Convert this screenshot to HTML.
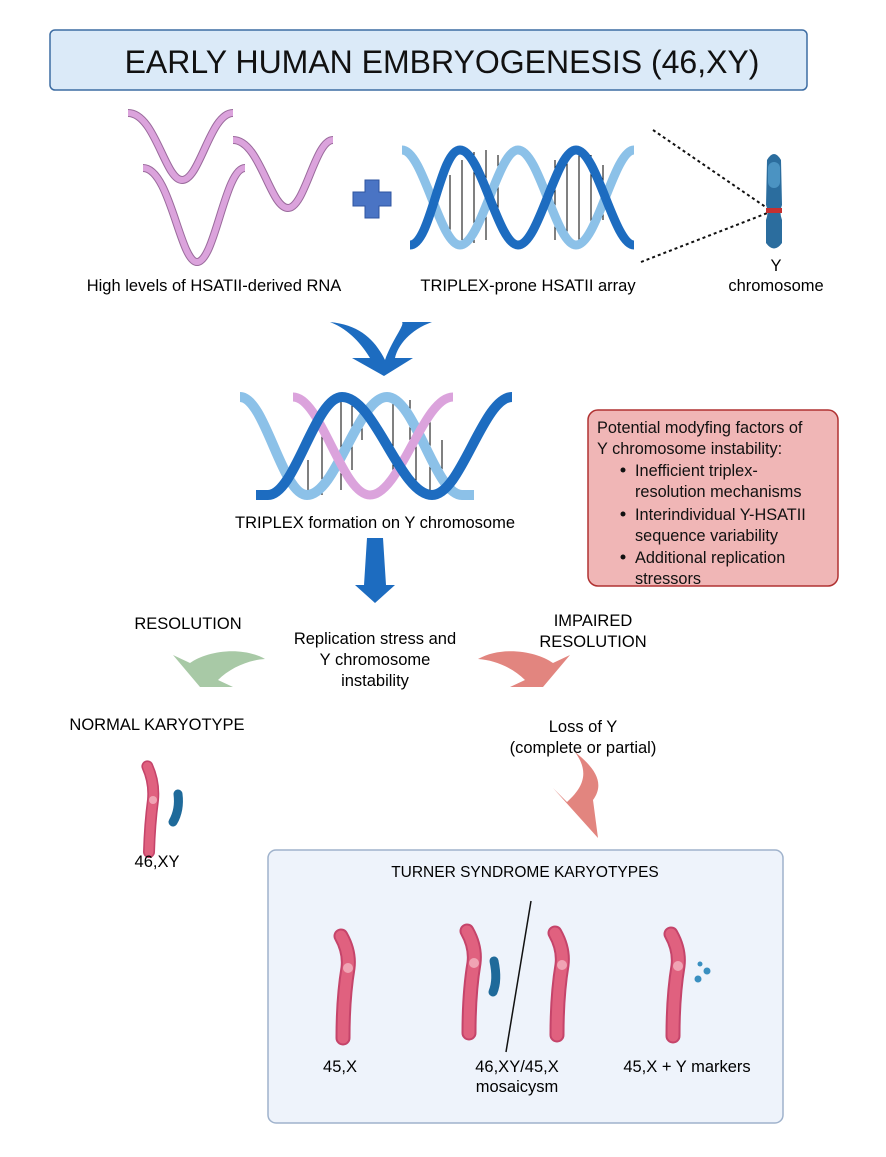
<!DOCTYPE html>
<html><head><meta charset="utf-8"><style>
body{margin:0;background:#fff}
svg{display:block;font-family:"Liberation Sans",sans-serif}
</style></head><body>
<svg width="886" height="1157" viewBox="0 0 886 1157" xmlns="http://www.w3.org/2000/svg">
<rect x="0" y="0" width="886" height="1157" fill="#fff"/>
<!-- title -->
<rect x="50" y="30" width="757" height="60" rx="5" fill="#dbeaf8" stroke="#3d6da3" stroke-width="1.5"/>
<text x="442" y="73" font-size="32" text-anchor="middle" fill="#111">EARLY HUMAN EMBRYOGENESIS (46,XY)</text>

<!-- RNA strands -->
<g fill="none">
<g stroke="#9a6a9c" stroke-width="8">
<path d="M128,113 C155,113 165,180 182,180 C200,180 210,113 233,113"/>
<path d="M233,140 C260,140 270,208 288,208 C305,208 315,140 333,140"/>
<path d="M143,168 C170,168 180,262 197,262 C215,262 225,168 245,168"/>
</g>
<g stroke="#dba3dc" stroke-width="6">
<path d="M128,113 C155,113 165,180 182,180 C200,180 210,113 233,113"/>
<path d="M233,140 C260,140 270,208 288,208 C305,208 315,140 333,140"/>
<path d="M143,168 C170,168 180,262 197,262 C215,262 225,168 245,168"/>
</g>
</g>
<!-- plus -->
<path d="M365,180 h14 v12 h12 v14 h-12 v12 h-14 v-12 h-12 v-14 h12z" fill="#4a74c4" stroke="#2f55a0" stroke-width="1"/>

<!-- DNA helix -->
<g fill="none">
<g stroke="#000" stroke-width="1">
<line x1="450" y1="175" x2="450" y2="230"/><line x1="462" y1="160" x2="462" y2="240"/><line x1="474" y1="152" x2="474" y2="243"/><line x1="486" y1="150" x2="486" y2="240"/><line x1="498" y1="155" x2="498" y2="225"/>
<line x1="555" y1="160" x2="555" y2="240"/><line x1="567" y1="152" x2="567" y2="245"/><line x1="579" y1="150" x2="579" y2="242"/><line x1="591" y1="155" x2="591" y2="235"/><line x1="603" y1="165" x2="603" y2="220"/>
</g>
<path d="M402,150 C423,150 440,245 460,245 C481,245 498,150 518,150 C539,150 556,245 576,245 C597,245 614,150 634,150" stroke="#8cc1e8" stroke-width="9"/>
<path d="M410,245 C431,245 440,150 460,150 C481,150 498,245 518,245 C539,245 556,150 576,150 C597,150 614,245 634,245" stroke="#1d6cc0" stroke-width="9" stroke-dasharray="0"/>
</g>
<!-- dotted lines -->
<line x1="653" y1="130" x2="770" y2="210" stroke="#111" stroke-width="2" stroke-dasharray="3,3"/>
<line x1="641" y1="262" x2="770" y2="212" stroke="#111" stroke-width="2" stroke-dasharray="3,3"/>
<!-- Y chromosome -->
<path d="M767,160 Q774,148 781,160 L782,205 Q779,212 782,220 L782,243 Q774,254 766,243 L766,220 Q769,212 766,205Z" fill="#2b6d9e"/>
<rect x="768" y="162" width="12" height="26" rx="6" fill="#4b93c2"/>
<rect x="766" y="208" width="16" height="5" fill="#c43030"/>
<g font-size="16.5" text-anchor="middle">
<text x="214" y="291">High levels of HSATII-derived RNA</text>
<text x="528" y="291">TRIPLEX-prone HSATII array</text>
<text x="776" y="271">Y</text>
<text x="776" y="291">chromosome</text>
</g>

<!-- chevron arrow -->
<path d="M330,322 C360,325 375,340 385,360 C392,340 405,325 402,322 C420,322 435,322 432,322 C410,330 398,345 395,358 L413,358 L384,376 L352,358 L370,358 C362,345 350,330 330,322Z" fill="#1d6cc0"/>

<!-- triplex helix -->
<g fill="none">
<g stroke="#000" stroke-width="1">
<line x1="308" y1="460" x2="308" y2="495"/><line x1="322" y1="430" x2="322" y2="495"/><line x1="341" y1="400" x2="341" y2="490"/><line x1="352" y1="398" x2="352" y2="470"/><line x1="362" y1="405" x2="362" y2="440"/>
<line x1="393" y1="400" x2="393" y2="470"/><line x1="410" y1="400" x2="410" y2="440"/><line x1="416" y1="440" x2="416" y2="490"/>
<line x1="430" y1="420" x2="430" y2="495"/><line x1="442" y1="440" x2="442" y2="492"/>
</g>
<path d="M240,397 C265,397 282,495 307,495 C336,495 358,397 387,397 C415,397 435,495 462,495 L474,495" stroke="#8cc1e8" stroke-width="10"/>
<path d="M293,397 C321,397 342,495 370,495 C400,495 423,397 453,397" stroke="#dba3dc" stroke-width="9"/>
<path d="M256,495 L268,495 C295,495 315,397 342,397 C375,397 400,495 432,495 C461,495 483,397 512,397" stroke="#1d6cc0" stroke-width="10"/>
</g>
<text x="375" y="528" font-size="16.5" text-anchor="middle">TRIPLEX formation on Y chromosome</text>

<!-- red box -->
<rect x="588" y="410" width="250" height="176" rx="10" fill="#f0b6b6" stroke="#b03232" stroke-width="1.5"/>
<g font-size="16.3" fill="#111">
<text x="597" y="433">Potential modyfing factors of</text>
<text x="597" y="454">Y chromosome instability:</text>
<circle cx="623" cy="470" r="2.5" fill="#111"/><text x="635" y="476">Inefficient triplex-</text>
<text x="635" y="497">resolution mechanisms</text>
<circle cx="623" cy="514" r="2.5" fill="#111"/><text x="635" y="520">Interindividual Y-HSATII</text>
<text x="635" y="541">sequence variability</text>
<circle cx="623" cy="557" r="2.5" fill="#111"/><text x="635" y="563">Additional replication</text>
<text x="635" y="584">stressors</text>
</g>

<!-- down arrow -->
<path d="M367,538 L383,538 L386,585 L395,585 L375,603 L355,585 L364,585Z" fill="#1d6cc0"/>
<g font-size="16.5" text-anchor="middle">
<text x="188" y="629">RESOLUTION</text>
<text x="375" y="644">Replication stress and</text>
<text x="375" y="665">Y chromosome</text>
<text x="375" y="686">instability</text>
<text x="593" y="626">IMPAIRED</text>
<text x="593" y="647">RESOLUTION</text>
<text x="157" y="730">NORMAL KARYOTYPE</text>
<text x="583" y="732">Loss of Y</text>
<text x="583" y="753">(complete or partial)</text>
</g>
<!-- curved arrows -->
<path d="M265,659 C240,645 205,652 190,663 L173,655 L200,687 L233,687 L218,680 C230,668 248,660 265,659Z" fill="#a8c9a6"/>
<path transform="translate(743,0) scale(-1,1)" d="M265,659 C240,645 205,652 190,663 L173,655 L200,687 L233,687 L218,680 C230,668 248,660 265,659Z" fill="#e2857f"/>
<path d="M575,752 C598,770 604,785 593,800 L598,838 L553,788 L567,802 C586,785 588,770 575,752Z" fill="#e2857f"/>

<!-- normal karyotype chromosomes -->
<g transform="translate(153,800) scale(0.8)" fill="none" stroke-linecap="round">
<path d="M-7,-42 Q2,-22 0,0 Q-4,30 -5,65" stroke="#c5446a" stroke-width="15"/>
<path d="M-7,-42 Q2,-22 0,0 Q-4,30 -5,65" stroke="#e0617f" stroke-width="11"/>
<circle cx="0" cy="0" r="5" fill="#f0a4b4" stroke="none"/>
</g>
<path d="M178,794 Q180,810 173,822" stroke="#1f6a9a" stroke-width="9" stroke-linecap="round" fill="none"/>
<text x="157" y="867" font-size="16.5" text-anchor="middle">46,XY</text>

<!-- Turner box -->
<rect x="268" y="850" width="515" height="273" rx="8" fill="#eef3fb" stroke="#9fb2cc" stroke-width="1.5"/>
<text x="525" y="877" font-size="15.5" text-anchor="middle">TURNER SYNDROME KARYOTYPES</text>
<g fill="none" stroke-linecap="round">
<g transform="translate(348,968)">
<path d="M-7,-32 Q2,-16 0,0 Q-5,30 -5,70" stroke="#c5446a" stroke-width="15"/>
<path d="M-7,-32 Q2,-16 0,0 Q-5,30 -5,70" stroke="#e0617f" stroke-width="11"/>
<circle r="5" fill="#f0a4b4" stroke="none"/></g>
<g transform="translate(474,963)">
<path d="M-7,-32 Q2,-16 0,0 Q-5,30 -5,70" stroke="#c5446a" stroke-width="15"/>
<path d="M-7,-32 Q2,-16 0,0 Q-5,30 -5,70" stroke="#e0617f" stroke-width="11"/>
<circle r="5" fill="#f0a4b4" stroke="none"/></g>
<g transform="translate(562,965)">
<path d="M-7,-32 Q2,-16 0,0 Q-5,30 -5,70" stroke="#c5446a" stroke-width="15"/>
<path d="M-7,-32 Q2,-16 0,0 Q-5,30 -5,70" stroke="#e0617f" stroke-width="11"/>
<circle r="5" fill="#f0a4b4" stroke="none"/></g>
<g transform="translate(678,966)">
<path d="M-7,-32 Q2,-16 0,0 Q-5,30 -5,70" stroke="#c5446a" stroke-width="15"/>
<path d="M-7,-32 Q2,-16 0,0 Q-5,30 -5,70" stroke="#e0617f" stroke-width="11"/>
<circle r="5" fill="#f0a4b4" stroke="none"/></g>
<path d="M494,961 Q498,980 493,992" stroke="#1f6a9a" stroke-width="9"/>
</g>
<circle cx="700" cy="964" r="2.5" fill="#3a8fc0"/>
<circle cx="707" cy="971" r="3.5" fill="#3a8fc0"/>
<circle cx="698" cy="979" r="3.5" fill="#3a8fc0"/>
<line x1="531" y1="901" x2="506" y2="1052" stroke="#111" stroke-width="1.5"/>
<g font-size="16.5" text-anchor="middle">
<text x="340" y="1072">45,X</text>
<text x="517" y="1072">46,XY/45,X</text>
<text x="517" y="1092">mosaicysm</text>
<text x="687" y="1072">45,X + Y markers</text>
</g>
</svg>
</body></html>
